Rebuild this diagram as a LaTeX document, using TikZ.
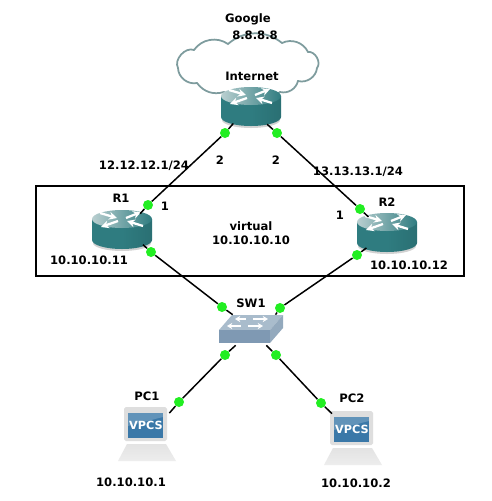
\documentclass[tikz,border=0pt]{standalone}
\usepackage{fontspec}
\setmainfont{DejaVu Sans}
\usetikzlibrary{arrows.meta, positioning, shapes.geometric}
\definecolor{Teal}   {HTML}{2F7C80}
\definecolor{TealL}  {HTML}{B9CFD0}
\definecolor{CloudE} {HTML}{7E9C9E}
\definecolor{Port}   {HTML}{22EE22}
\definecolor{SwTop}  {HTML}{A9BCCC}
\definecolor{SwFront}{HTML}{7F99B3}
\definecolor{SwSide} {HTML}{93A9BD}
\definecolor{Screen} {HTML}{3A78A8}
\definecolor{PcBody} {HTML}{DEDEDE}
\tikzset{
  lbl/.style={font=\fontsize{6.6}{8}\selectfont\bfseries, align=center, inner sep=0pt},
  rbox/.style={ellipse, inner sep=0pt, minimum width=60*0.02cm, minimum height=40*0.02cm},
  swbox/.style={rectangle, inner sep=0pt, minimum width=64*0.02cm, minimum height=30*0.02cm},
  pcbox/.style={rectangle, inner sep=0pt, minimum width=44*0.02cm, minimum height=36*0.02cm},
  port/.style={circle, fill=Port, inner sep=0pt, minimum size=10*0.02cm},
  lnk/.style={line width=0.85pt, black},
  rarr/.style={white, line width=1.3pt, -{Stealth[length=4.5pt,width=4.5pt]}},
  sarr/.style={white, line width=1pt, -{Stealth[length=3pt,width=3.5pt]}},
  % icons, drawn round the centre of their box
  routericon/.pic={
    \fill[gray!35] (-29,-4) -- (-29,13) arc[x radius=29, y radius=8, start angle=180, end angle=0] -- (29,-4) -- cycle;
    \path[left color=Teal, right color=Teal!90!black, middle color=Teal]
      (-30,-11) -- (-30,10) arc[x radius=30, y radius=9, start angle=180, end angle=0]
      -- (30,-11) -- cycle;
    \path[left color=TealL, right color=Teal] (0,-11) ellipse[x radius=30, y radius=9];
    \draw[rarr] (-22,-17) -- (-5,-12);
    \draw[rarr] (-4,-9) -- (-21,-3);
    \draw[rarr] (4,-12) -- (19,-18);
    \draw[rarr] (21,-4) -- (5,-9);
  },
  swicon/.pic={
    \fill[SwTop] (-19,-15) -- (32,-15) -- (19,0) -- (-32,0) -- cycle;
    \fill[SwFront] (-32,0) -- (19,0) -- (19,13) -- (-32,13) -- cycle;
    \fill[SwSide] (19,0) -- (32,-15) -- (32,-2) -- (19,13) -- cycle;
    \draw[sarr] (-5,-11) -- (-16,-11);
    \draw[sarr] (2,-11) -- (17,-11);
    \draw[sarr] (-10,-4) -- (-24,-4);
    \draw[sarr] (-3,-4) -- (12,-4);
  },
  pcicon/.pic={
    \fill[PcBody, rounded corners=1pt] (-22,-27) rectangle (21,7);
    \fill[Screen] (-18,-21) rectangle (17,4);
    \fill[white, opacity=0.2] (-18,-21) -- (17,-21) -- (17,-17) -- (-18,-8) -- cycle;
    \node[font=\fontsize{6.4}{8}\selectfont\bfseries, text=white, inner sep=0pt] (vpcs) at (0,-9) {VPCS};
    \path[top color=gray!22, bottom color=gray!14] (-19,10) -- (20,10) -- (30,27) -- (-28,27) -- cycle;
  },
}
\begin{document}
\begin{tikzpicture}[x=0.02cm,y=-0.02cm]

  \useasboundingbox (0,0) rectangle (492,501);
  \fill[white] (0,0) rectangle (492,501);

  \draw[line width=0.9pt] (36,186) rectangle (464,276);

  % cloud outline
  \draw[CloudE, fill=white, line width=1pt]
    (178,68) to[bend left=70] (194,50) to[bend left=45] (228,44)
    to[bend left=40] (282,43) to[bend left=45] (308,52)
    to[bend left=70] (317,68) to[bend left=50] (298,81)
    to[bend left=45] (280,92) to[bend left=35] (224,92)
    to[bend left=35] (197,83) to[bend left=50] cycle;

  \node[rbox] (NET) at (251,107) {};
  \node[rbox] (R1) at (122,230) {};
  \node[rbox] (R2) at (387,233) {};
  \node[swbox] (SW1) at (251,330) {};
  \node[pcbox] (PC1) at (147,426) {};
  \node[pcbox] (PC2) at (351,432) {};

  \pic at (NET) {routericon};
  \pic at (R1) {routericon};
  \pic at (R2) {routericon};
  \pic at (SW1) {swicon};
  \pic at (146,434) {pcicon};
  \pic at (352,438) {pcicon};

  \node[port] (P1) at (148,205) {};
  \node[port] (P2) at (225,133) {};
  \node[port] (P3) at (277,133) {};
  \node[port] (P4) at (360,209) {};
  \node[port] (P5) at (151,252) {};
  \node[port] (P6) at (222,307) {};
  \node[port] (P7) at (280,308) {};
  \node[port] (P8) at (357,255) {};
  \node[port] (P9) at (225,355) {};
  \node[port] (P10) at (276,355) {};
  \node[port] (P11) at (179,402) {};
  \node[port] (P12) at (321,403) {};

  \draw[lnk] (R1.42) -- (P1) -- (P2) -- (NET.223);
  \draw[lnk] (NET.313) -- (P3) -- (P4) -- (R2.139);
  \draw[lnk] (R1.325) -- (P5) -- (P6) -- (SW1.140);
  \draw[lnk] (SW1.32) -- (P7) -- (P8) -- (R2.216);
  \draw[lnk] (SW1.225) -- (P9) -- (P11) -- (PC1.30);
  \draw[lnk] (SW1.315) -- (P10) -- (P12) -- (PC2.136);

  \node[lbl] (GOOG) at (248,19) {Google};
  \node[lbl] (DNS) at (255,35) {8.8.8.8};
  \node[lbl] (INET) at (252,76) {Internet};
  \node[lbl] (NR1) at (121,198) {R1};
  \node[lbl] (NR2) at (387,202) {R2};
  \node[lbl] (NSW) at (251,303) {SW1};
  \node[lbl] (NPC1) at (147,396) {PC1};
  \node[lbl] (NPC2) at (352,398) {PC2};
  \node[lbl] (AR1) at (89,260) {10.10.10.11};
  \node[lbl] (AR2) at (409,265) {10.10.10.12};
  \node[lbl] (APC1) at (131,482) {10.10.10.1};
  \node[lbl] (APC2) at (356,483) {10.10.10.2};
  \node[lbl] (VIP) at (251,233) {virtual\\10.10.10.10};
  \node[lbl] (WAN1) at (144,166) {12.12.12.1/24};
  \node[lbl] (WAN2) at (358,172) {13.13.13.1/24};
  \node[lbl] (I1) at (220,160) {2};
  \node[lbl] (I2) at (276,160) {2};
  \node[lbl] (I3) at (165,206) {1};
  \node[lbl] (I4) at (340,215) {1};

\end{tikzpicture}
\end{document}
